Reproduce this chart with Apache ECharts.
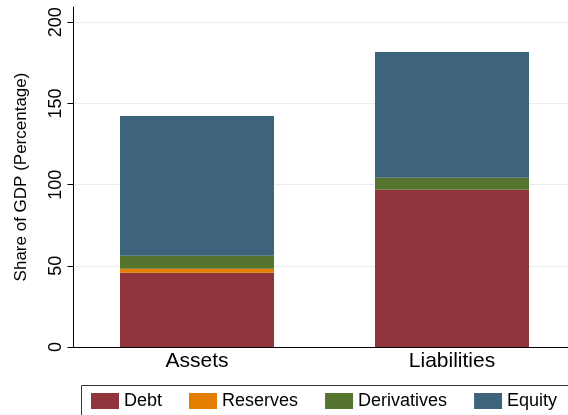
<!DOCTYPE html>
<html>
<head>
<meta charset="utf-8">
<script src="https://cdn.jsdelivr.net/npm/echarts@6/dist/echarts.min.js"></script>
<style>html,body{margin:0;padding:0;background:#fff;}#c{width:568px;height:415px;}</style>
</head>
<body>
<div id="c"></div>
<script>
const categories = ['Assets', 'Liabilities'];
const debt = [45.7, 96.8];
const reserves = [2.5, 0];
const derivatives = [8.0, 7.4];
const equity = [86.1, 77.5];
const yTicks = [0, 50, 100, 150, 200];

const FONT = 'Liberation Sans, Arial, Helvetica, sans-serif';
const chart = echarts.init(document.getElementById('c'));
function bar(name, data, color) {
  return { name, type: 'bar', stack: 'total', data, barWidth: 154, itemStyle: { color }, emphasis: { disabled: true } };
}
chart.setOption({
  animation: false,
  textStyle: { fontFamily: FONT },
  grid: { left: 69.5, width: 510, top: 7, height: 340, containLabel: false, outerBoundsMode: 'none' },
  xAxis: {
    type: 'category', data: categories,
    axisLine: { lineStyle: { color: '#000', width: 1 } },
    axisTick: { show: false },
    axisLabel: { color: '#000', fontSize: 21, fontFamily: FONT, margin: 4 }
  },
  yAxis: {
    type: 'value', min: 0, max: 209.4, interval: 50, offset: -4,
    name: 'Share of GDP (Percentage)', nameLocation: 'middle', nameGap: 44,
    nameTextStyle: { color: '#000', fontSize: 17, fontFamily: FONT },
    axisLine: { show: true, lineStyle: { color: '#000', width: 1 } },
    axisTick: { show: true, length: 6, lineStyle: { color: '#000' } },
    axisLabel: {
      color: '#000', fontSize: 18, fontFamily: FONT, rotate: 90, margin: 8,
      showMaxLabel: false,
      formatter: v => (yTicks.indexOf(v) >= 0 ? String(v) : '')
    },
    splitLine: { show: true, showMaxLine: false, lineStyle: { color: '#e6eef0', width: 1 } }
  },
  legend: {
    left: 86, top: 387, width: 600, itemWidth: 28, itemHeight: 16, itemGap: 27, icon: 'rect',
    textStyle: { color: '#000', fontSize: 18, fontFamily: FONT },
    data: ['Debt', 'Reserves', 'Derivatives', 'Equity']
  },
  graphic: [{
    type: 'rect', left: 79, top: 383, silent: true,
    shape: { width: 520, height: 31 },
    style: { fill: 'none', stroke: '#333', lineWidth: 1 }
  }],
  series: [
    bar('Debt', debt, '#90353B'),
    bar('Reserves', reserves, '#E37E00'),
    bar('Derivatives', derivatives, '#55752F'),
    bar('Equity', equity, '#3E647D')
  ]
});
</script>
</body>
</html>
